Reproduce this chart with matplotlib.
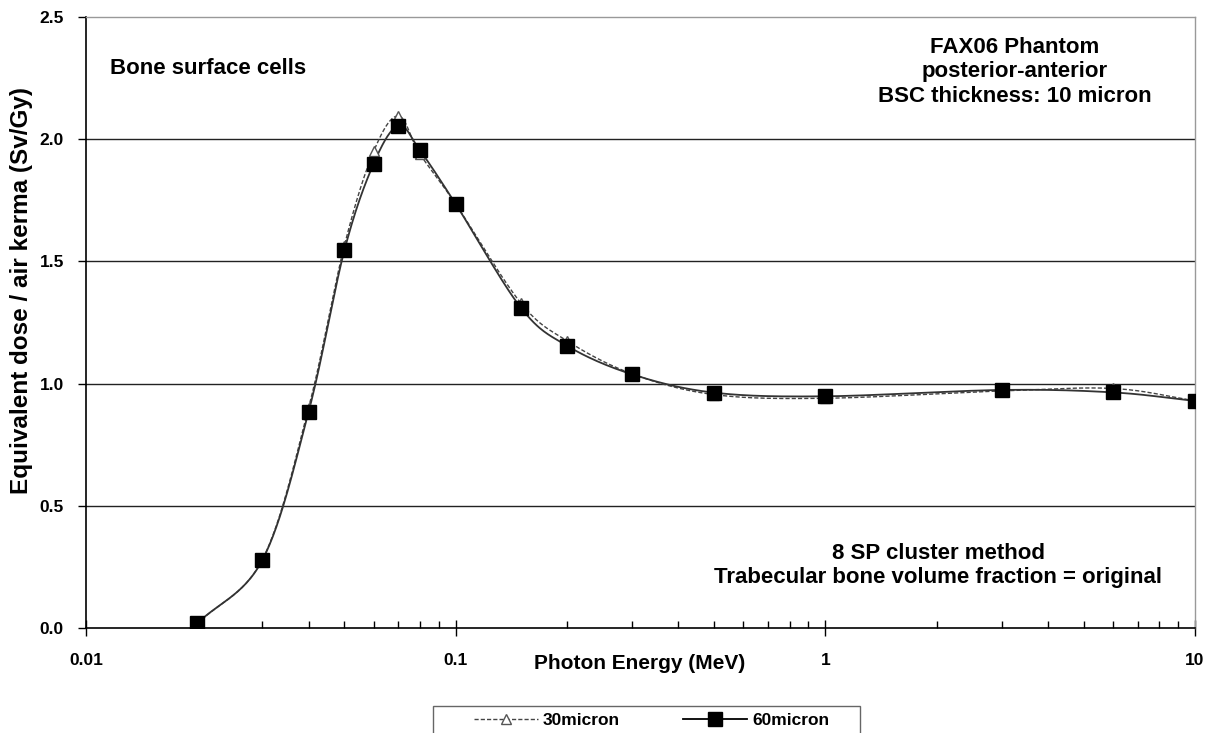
import matplotlib
matplotlib.use('Agg')
import matplotlib.pyplot as plt
import numpy as np
from matplotlib.ticker import FixedLocator, NullFormatter, LogLocator

plt.rcParams['font.family'] = ['Liberation Sans', 'DejaVu Sans']
plt.rcParams['font.weight'] = 'bold'

# photon energies (MeV)
energy = [0.02, 0.03, 0.04, 0.05, 0.06, 0.07, 0.08, 0.1, 0.15, 0.2, 0.3,
          0.5, 1.0, 3.0, 6.0, 10.0]
# equivalent dose / air kerma (Sv/Gy)
dose_30 = [0.018, 0.280, 0.900, 1.565, 1.950, 2.095, 1.940, 1.735, 1.330, 1.175, 1.040,
           0.955, 0.940, 0.970, 0.980, 0.930]
dose_60 = [0.019, 0.278, 0.884, 1.545, 1.900, 2.055, 1.955, 1.735, 1.311, 1.155, 1.038,
           0.963, 0.948, 0.974, 0.964, 0.929]
series_names = ['30micron', '60micron']

y_ticks = [0.0, 0.5, 1.0, 1.5, 2.0, 2.5]
x_ticks = [0.01, 0.1, 1, 10]
x_ticklabels = ['0.01', '0.1', '1', '10']


def smooth(x, y, n=30):
    # Catmull-Rom through the points in (log x, y) space, like Excel's smoothed lines
    lx = np.log10(x)
    y = np.asarray(y, dtype=float)
    px = np.concatenate([[2 * lx[0] - lx[1]], lx, [2 * lx[-1] - lx[-2]]])
    py = np.concatenate([[2 * y[0] - y[1]], y, [2 * y[-1] - y[-2]]])
    xs, ys = [], []
    for i in range(1, len(px) - 2):
        t = np.linspace(0, 1, n, endpoint=False)
        b1x = px[i] + (px[i + 1] - px[i - 1]) / 6
        b1y = py[i] + (py[i + 1] - py[i - 1]) / 6
        b2x = px[i + 1] - (px[i + 2] - px[i]) / 6
        b2y = py[i + 1] - (py[i + 2] - py[i]) / 6
        xs.append((1 - t)**3 * px[i] + 3 * (1 - t)**2 * t * b1x + 3 * (1 - t) * t**2 * b2x + t**3 * px[i + 1])
        ys.append((1 - t)**3 * py[i] + 3 * (1 - t)**2 * t * b1y + 3 * (1 - t) * t**2 * b2y + t**3 * py[i + 1])
    xs.append([px[-2]])
    ys.append([py[-2]])
    return 10 ** np.concatenate(xs), np.concatenate(ys)


fig = plt.figure(figsize=(12.13, 7.33), dpi=100)
ax = fig.add_axes([86 / 1213, 1 - 628 / 733, 1109 / 1213, 611 / 733])
ax.set_xscale('log')
ax.set_xlim(0.01, 10)
ax.set_ylim(0, 2.5)

for v in y_ticks[1:-1]:
    ax.axhline(v, color='#222222', lw=1.0, zorder=1)

sx, sy = smooth(energy, dose_30)
ax.plot(sx, sy, color='#444444', lw=1.0, ls=(0, (3, 1.5)), zorder=3)
ax.plot(energy, dose_30, ls='none', marker='^', ms=7, mfc='white', mec='#555555', mew=1.0, zorder=4)
sx, sy = smooth(energy, dose_60)
ax.plot(sx, sy, color='#333333', lw=1.3, zorder=3)
ax.plot(energy, dose_60, ls='none', marker='s', ms=9.5, color='black', zorder=5)

ax.set_yticks(y_ticks)
ax.set_yticklabels(['%.1f' % v for v in y_ticks], fontsize=12.5, fontweight='bold')
ax.xaxis.set_major_locator(FixedLocator(x_ticks))
ax.set_xticklabels(x_ticklabels, fontsize=12.5, fontweight='bold')
ax.xaxis.set_minor_locator(LogLocator(base=10, subs=np.arange(2, 10)))
ax.xaxis.set_minor_formatter(NullFormatter())
ax.tick_params(axis='x', which='major', direction='inout', length=12, width=1, pad=12)
ax.tick_params(axis='x', which='minor', direction='in', length=5, width=1)
ax.tick_params(axis='y', which='major', direction='out', length=6, width=1, pad=10)

for s in ['left', 'bottom']:
    ax.spines[s].set_color('black')
    ax.spines[s].set_linewidth(1.2)
for s in ['top', 'right']:
    ax.spines[s].set_color('#999999')
    ax.spines[s].set_linewidth(1.0)

ax.set_xlabel('Photon Energy (MeV)', fontsize=15, fontweight='bold')
ax.xaxis.set_label_coords(0.4995, -0.043)
ax.set_ylabel('Equivalent dose / air kerma (Sv/Gy)', fontsize=17.5, fontweight='bold')
ax.yaxis.set_label_coords(-0.048, 0.553)

ax.text(0.0216, 0.9165, 'Bone surface cells', transform=ax.transAxes, fontsize=16,
        fontweight='bold', ha='left', va='center')
ax.text((1015 - 86) / 1109, (628 - 72) / 611, 'FAX06 Phantom\nposterior-anterior\nBSC thickness: 10 micron',
        transform=ax.transAxes, fontsize=16, fontweight='bold', ha='center', va='center',
        linespacing=1.2)
ax.text((938 - 86) / 1109, (628 - 565.5) / 611, '8 SP cluster method\nTrabecular bone volume fraction = original',
        transform=ax.transAxes, fontsize=16, fontweight='bold', ha='center', va='center',
        linespacing=1.2)

# legend box runs off the bottom edge, as in the original
fig.patches.append(plt.Rectangle((433 / 1213, -0.05), 427 / 1213, 0.05 + 27 / 733,
                                 transform=fig.transFigure, fill=False,
                                 edgecolor='#666666', lw=1.0))
h30 = plt.Line2D([], [], color='#444444', lw=1.0, ls=(0, (3, 1.5)), marker='^', ms=7,
                 mfc='white', mec='#555555')
h60 = plt.Line2D([], [], color='black', lw=1.3, marker='s', ms=9.5)
leg = fig.legend([h30, h60], series_names, loc='center',
                 bbox_to_anchor=(651.5 / 1213, 1 - 720 / 733), ncol=2, frameon=False,
                 handlelength=3.7, handletextpad=0.3, columnspacing=3.6,
                 borderpad=0.0, prop={'size': 12.5, 'weight': 'bold'})

fig.savefig('out.png', dpi=100)
